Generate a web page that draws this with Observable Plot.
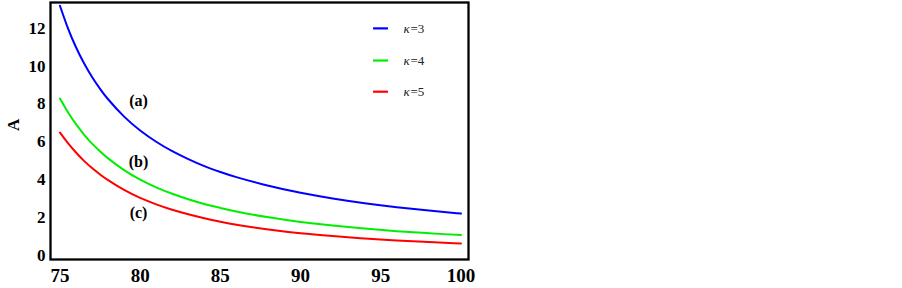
<!DOCTYPE html>
<html><head><meta charset="utf-8">
<script src="https://cdn.jsdelivr.net/npm/d3@7"></script>
<script src="https://cdn.jsdelivr.net/npm/@observablehq/plot@0.6"></script>
<style>body{margin:0;background:#fff} svg text{font-family:"Liberation Serif", serif;}</style>
</head><body><div id="chart"></div>
<script>
// x values sampled along the curves
const xValues = [75, 75.5, 76, 76.5, 77, 77.5, 78, 79, 80, 81, 82, 83, 84, 85, 86, 88, 90, 92, 94, 96, 98, 100];
// A for kappa = 3 (curve a)
const kappa3 = [13.2, 12.0, 11.0, 10.15, 9.43, 8.8, 8.25, 7.33, 6.6, 6.0, 5.5, 5.08, 4.71, 4.4, 4.13, 3.67, 3.3, 3.0, 2.75, 2.54, 2.36, 2.2];
// A for kappa = 4 (curve b)
const kappa4 = [8.29, 7.56, 6.93, 6.38, 5.9, 5.49, 5.12, 4.5, 4.0, 3.59, 3.25, 2.96, 2.71, 2.5, 2.31, 2.0, 1.76, 1.57, 1.41, 1.27, 1.16, 1.06];
// A for kappa = 5 (curve c)
const kappa5 = [6.49, 5.93, 5.43, 4.99, 4.61, 4.27, 3.97, 3.45, 3.03, 2.69, 2.4, 2.16, 1.95, 1.77, 1.61, 1.36, 1.16, 1.01, 0.88, 0.78, 0.69, 0.62];

const seriesNames = ["κ=3", "κ=4", "κ=5"];
const seriesValues = ["=3", "=4", "=5"];
const seriesColors = ["#0000ff", "#00ee00", "#ff0000"];
const xTicks = [75, 80, 85, 90, 95, 100];
const yTicks = [0, 2, 4, 6, 8, 10, 12];
const curveLabels = ["(a)", "(b)", "(c)"];
const curveLabelY = [8.15, 4.91, 2.26];
const legendY = [12.0, 10.3, 8.65];

const serif = "'Liberation Serif', 'Times New Roman', serif";
const series = [kappa3, kappa4, kappa5];
const rows = series.flatMap((arr, i) => arr.map((A, j) => ({x: xValues[j], A, series: seriesNames[i]})));
const legendRows = seriesNames.map((s, i) => ({series: s, y: legendY[i], rest: seriesValues[i]}));
const labelRows = curveLabels.map((t, i) => ({t, y: curveLabelY[i]}));

const chart = Plot.plot({
  width: 902,
  height: 288,
  marginLeft: 50,
  marginRight: 434,
  marginTop: 2,
  marginBottom: 29,
  style: {fontFamily: serif, color: "black", background: "white", overflow: "visible"},
  x: {domain: [74.41, 100.47]},
  y: {domain: [-0.23, 13.37]},
  color: {domain: seriesNames, range: seriesColors},
  marks: [
    Plot.line(rows, {x: "x", y: "A", stroke: "series", strokeWidth: 2, curve: "natural"}),
    Plot.frame({stroke: "black", strokeWidth: 2.3}),
    Plot.axisX({ticks: xTicks, tickSize: 0, tickPadding: 9, fontSize: 19, fontWeight: "bold", fontFamily: serif, label: null}),
    Plot.axisY({ticks: yTicks, tickSize: 0, tickPadding: 5, fontSize: 17, fontWeight: "bold", fontFamily: serif, label: null}),
    Plot.text(["A"], {frameAnchor: "left", dx: -37, rotate: -90, fontSize: 17, fontWeight: "bold", fontFamily: serif}),
    Plot.text(labelRows, {x: 79.9, y: "y", text: "t", fontSize: 16, fontWeight: "bold", fontFamily: serif}),
    Plot.ruleY(legendRows, {x1: 94.55, x2: 95.48, y: "y", stroke: "series", strokeWidth: 2.2}),
    Plot.text(legendRows, {x: 96.41, y: "y", text: () => "κ", fontStyle: "italic", fontSize: 13, textAnchor: "start", fill: "#222", fontFamily: serif}),
    Plot.text(legendRows, {x: 96.41, y: "y", dx: 7, text: "rest", fontSize: 13, textAnchor: "start", fill: "#222", fontFamily: serif})
  ]
});
document.getElementById("chart").appendChild(chart);
</script>
</body></html>
